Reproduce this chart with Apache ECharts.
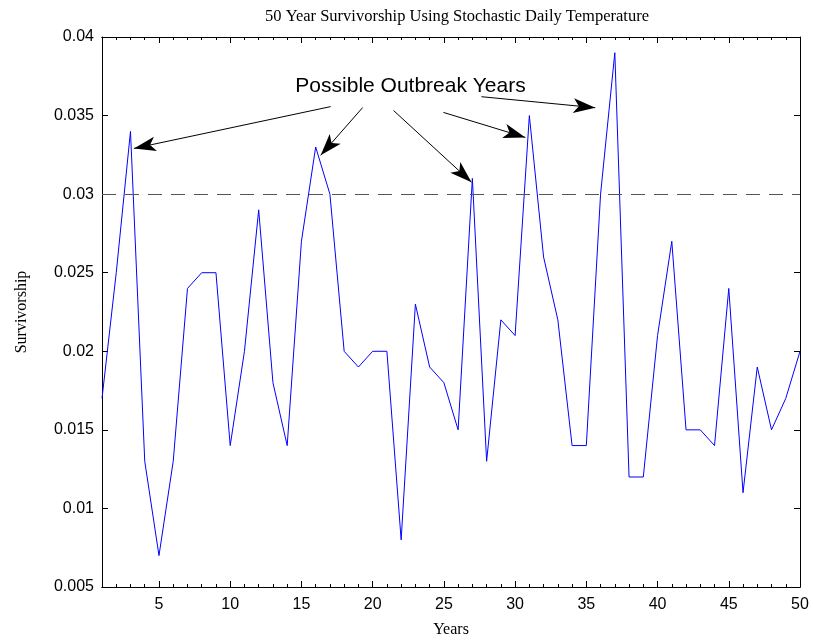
<!DOCTYPE html>
<html>
<head>
<meta charset="utf-8">
<script src="https://cdn.jsdelivr.net/npm/echarts@6/dist/echarts.min.js"></script>
<style>html,body{margin:0;padding:0;background:#fff}#c{width:813px;height:643px}</style>
</head>
<body>
<div id="c"></div>
<script>
const years = Array.from({length: 50}, (_, i) => i + 1);
const survivorship = [0.017,0.025,0.034,0.013,0.007,0.013,0.024,0.025,0.025,0.014,
  0.020,0.029,0.018,0.014,0.027,0.033,0.030,0.020,0.019,0.020,
  0.020,0.008,0.023,0.019,0.018,0.015,0.031,0.013,0.022,0.021,
  0.035,0.026,0.022,0.014,0.014,0.030,0.039,0.012,0.012,0.021,
  0.027,0.015,0.015,0.014,0.024,0.011,0.019,0.015,0.017,0.020];
const threshold = 0.03;
const xTickLabels = [5,10,15,20,25,30,35,40,45,50];
const annotationText = 'Possible Outbreak Years';
const annotationPos = [22.66, 0.0369];
const arrowStarts = [[17.05,0.03557],[19.30,0.03551],[21.47,0.03532],[24.97,0.0352],[27.64,0.0362]];
const arrowEnds = [[3.24,0.03291],[16.35,0.03247],[26.94,0.03076],[30.72,0.03361],[35.63,0.0355]];

const chart = echarts.init(document.getElementById('c'));
const axisLine = {show: true, lineStyle: {color: '#000', width: 1}};
function xAx(pos, major, show) {
  return {
    type: 'value', min: 1, max: 50, position: pos,
    axisLine: axisLine,
    axisTick: {show: true, inside: true, length: major ? 6 : 3, lineStyle: {color: '#000'},
      customValues: major ? xTickLabels : years},
    axisLabel: {show: show, customValues: xTickLabels, color: '#000', fontFamily: 'Liberation Sans, Arial', fontSize: 16, margin: 10},
    splitLine: {show: false},
    name: show ? 'Years' : '', nameLocation: 'middle', nameGap: 35,
    nameTextStyle: {fontFamily: 'Liberation Serif, Times New Roman', fontSize: 16, color: '#000'}
  };
}
function yAx(pos, show) {
  return {
    type: 'value', min: 0.005, max: 0.04, interval: 0.005, position: pos,
    axisLine: axisLine,
    axisTick: {show: true, inside: true, length: 6, lineStyle: {color: '#000'}},
    axisLabel: {show: show, color: '#000', fontFamily: 'Liberation Sans, Arial', fontSize: 16, margin: 8,
      formatter: v => String(parseFloat(v.toFixed(3)))},
    splitLine: {show: false},
    name: show ? 'Survivorship' : '', nameLocation: 'middle', nameGap: 72, nameRotate: 90,
    nameTextStyle: {fontFamily: 'Liberation Serif, Times New Roman', fontSize: 16, color: '#000'}
  };
}
chart.setOption({
  animation: false,
  title: {text: '50 Year Survivorship Using Stochastic Daily Temperature', left: 452, textAlign: 'center', top: 3,
    textStyle: {fontFamily: 'Liberation Serif, Times New Roman', fontSize: 16.5, fontWeight: 'normal', color: '#000'}},
  grid: {left: 102, right: 13, top: 37, bottom: 54, containLabel: false},
  xAxis: [xAx('bottom', true, true), xAx('bottom', false, false), xAx('top', true, false), xAx('top', false, false)],
  yAxis: [yAx('left', true), yAx('right', false)],
  series: [{
    type: 'line', data: years.map((y, i) => [y, survivorship[i]]),
    showSymbol: false, symbol: 'none', lineStyle: {color: '#0000ff', width: 1},
    markLine: {
      silent: true, symbol: ['none', 'none'], label: {show: false},
      lineStyle: {color: '#555', type: [14, 9], width: 1.2},
      data: [{yAxis: threshold}]
    }
  }, {
    type: 'line', data: [], showSymbol: false,
    markLine: {
      silent: true, symbol: ['none', 'arrow'], symbolSize: [11, 22], label: {show: false},
      lineStyle: {color: '#000', type: 'solid', width: 1},
      data: arrowStarts.map((s, i) => [{coord: s}, {coord: arrowEnds[i]}])
    },
    markPoint: {
      silent: true, symbol: 'rect', symbolSize: 1, itemStyle: {color: 'rgba(0,0,0,0)'},
      label: {show: true, formatter: annotationText, color: '#000', fontFamily: 'Liberation Sans, Arial', fontSize: 21, position: 'inside'},
      data: [{coord: annotationPos}]
    }
  }]
});
</script>
</body>
</html>
